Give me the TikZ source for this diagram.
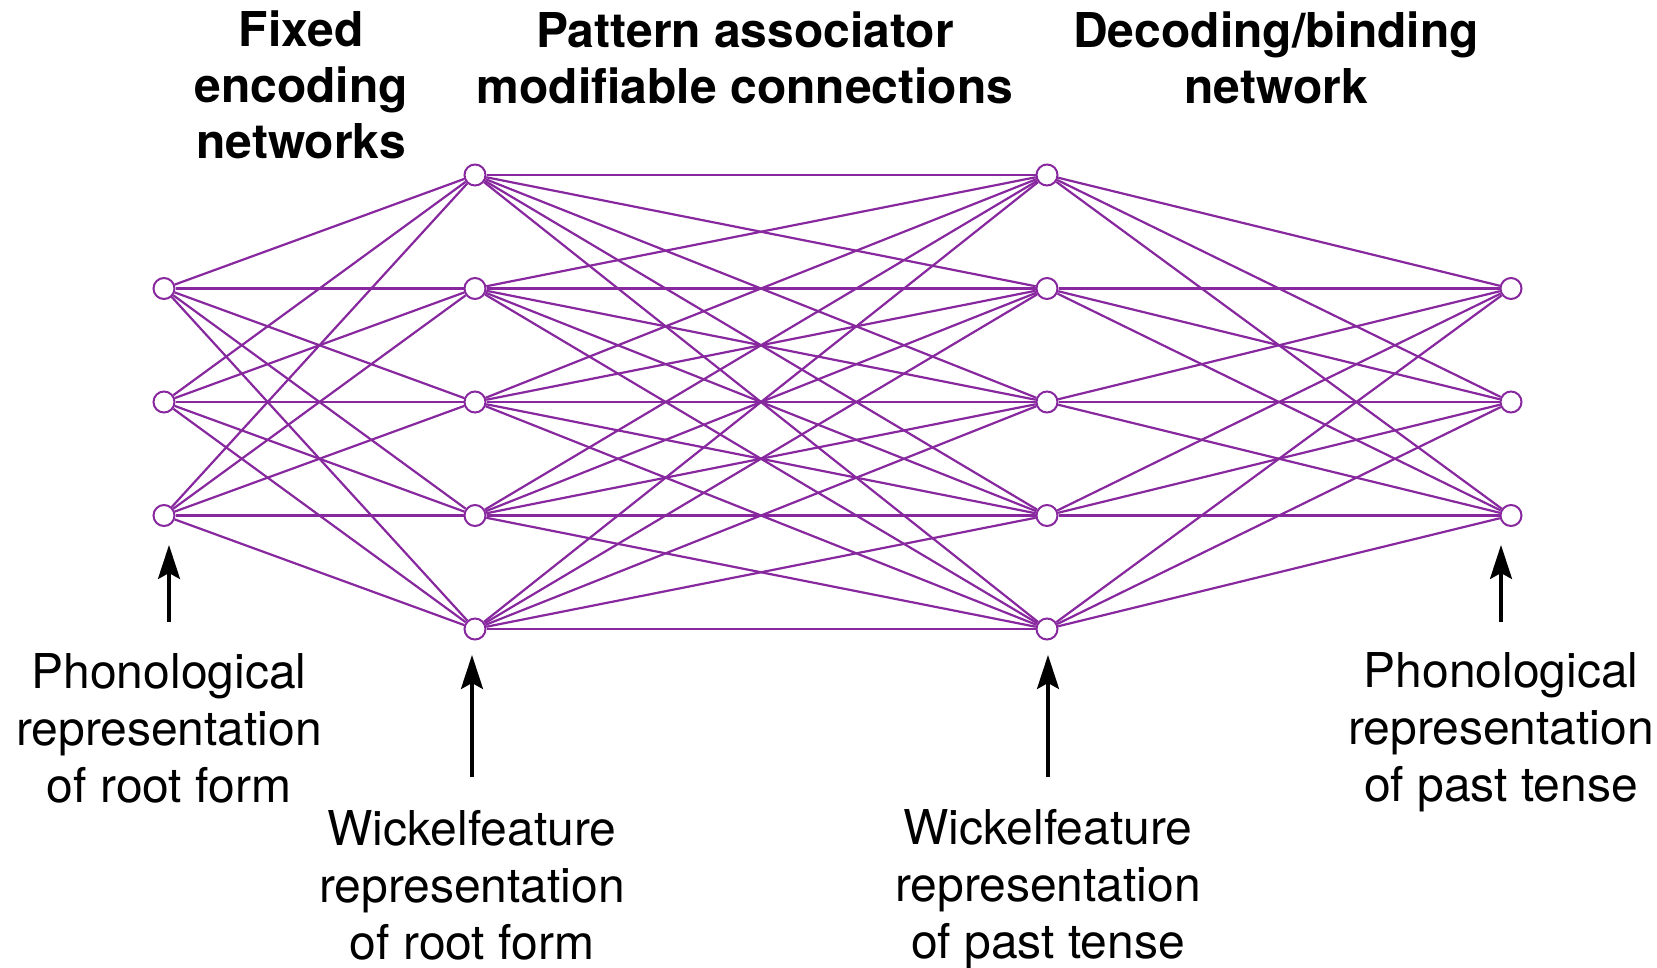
\documentclass[tikz,border=0pt]{standalone}
\usepackage{fontspec}
\setmainfont{TeX Gyre Heros}
\usetikzlibrary{positioning,arrows.meta}

\definecolor{netpurple}{RGB}{135,40,158}

\begin{document}
\begin{tikzpicture}[x=1pt,y=-1pt,node distance=113.5pt,on grid,
    unit/.style={circle,draw=netpurple,fill=white,line width=2pt,minimum size=21pt,inner sep=0pt},
    conn/.style={netpurple,line width=2.2pt},
    head/.style={align=center,font=\fontsize{48}{56}\selectfont\bfseries},
    lab/.style={align=center,font=\fontsize{48}{57}\selectfont},
    arr/.style={line width=3.3pt,-{Stealth[length=34pt,width=22pt,inset=6pt]}}]
    \useasboundingbox (0,0) rectangle (1657,967);

    % phonological input (root form)
    \node[unit] (p2) at (164,402) {};
    \node[unit] (p1) [above=of p2] {};
    \node[unit] (p3) [below=of p2] {};
    % wickelfeatures of root form
    \node[unit] (w3) at (475,402) {};
    \node[unit] (w2) [above=of w3] {};
    \node[unit] (w1) [above=of w2] {};
    \node[unit] (w4) [below=of w3] {};
    \node[unit] (w5) [below=of w4] {};
    % wickelfeatures of past tense
    \node[unit] (v3) at (1047,402) {};
    \node[unit] (v2) [above=of v3] {};
    \node[unit] (v1) [above=of v2] {};
    \node[unit] (v4) [below=of v3] {};
    \node[unit] (v5) [below=of v4] {};
    % phonological output (past tense)
    \node[unit] (q2) at (1511,402) {};
    \node[unit] (q1) [above=of q2] {};
    \node[unit] (q3) [below=of q2] {};

    \foreach \i in {1,2,3}
      \foreach \j in {1,...,5} {
        \draw[conn] (p\i) -- (w\j);
        \draw[conn] (v\j) -- (q\i);
      }
    \foreach \i in {1,...,5}
      \foreach \j in {1,...,5}
        \draw[conn] (w\i) -- (v\j);

    \node[head] (fixed)  at (301,85)   {Fixed\\encoding\\networks};
    \node[head] (assoc)  at (745,57.5) {Pattern associator\\modifiable connections};
    \node[head] (decode) at (1276,57.5) {Decoding/binding\\network};

    \node[lab] (rootph)  at (169,728)  {Phonological\\representation\\of root form};
    \node[lab] (rootwf)  at (472,885)  {Wickelfeature\\representation\\of root form};
    \node[lab] (pastwf)  at (1048,889) {Wickelfeature\\representation\\of past tense};
    \node[lab] (pastph)  at (1501,732) {Phonological\\representation\\of past tense};

    \draw[arr] (rootph.north |- 0,622) -- (rootph.north |- 0,545);
    \draw[arr] (rootwf.north |- 0,777) -- (rootwf.north |- 0,655);
    \draw[arr] (pastwf.north |- 0,777) -- (pastwf.north |- 0,655);
    \draw[arr] (pastph.north |- 0,622) -- (pastph.north |- 0,545);
\end{tikzpicture}
\end{document}
